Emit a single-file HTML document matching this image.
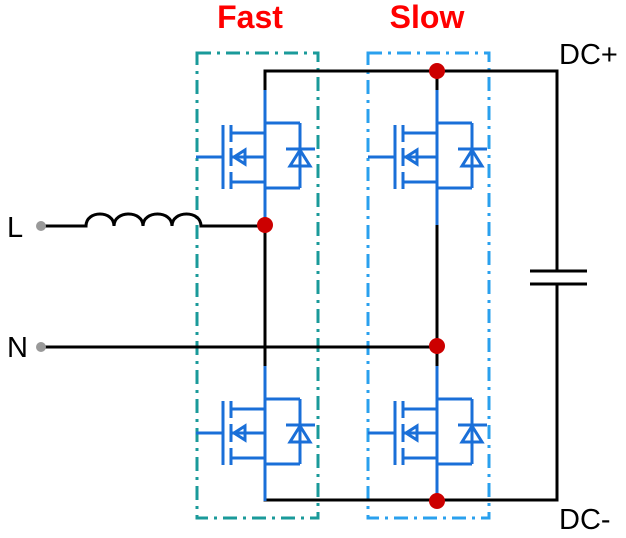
<!DOCTYPE html>
<html><head><style>html,body{margin:0;padding:0;background:#fff}svg{display:block}</style></head><body>
<svg width="626" height="538" viewBox="0 0 626 538" xmlns="http://www.w3.org/2000/svg">
<defs>
<g id="mos" fill="none" stroke="#1a6fd8" stroke-width="3">
  <line x1="0" y1="90" x2="0" y2="225"/>
  <line x1="0" y1="123" x2="35" y2="123"/>
  <line x1="35" y1="123" x2="35" y2="188"/>
  <line x1="0" y1="188" x2="35" y2="188"/>
  <line x1="-34" y1="133" x2="0" y2="133"/>
  <line x1="-34" y1="157" x2="0" y2="157"/>
  <line x1="-34" y1="182" x2="0" y2="182"/>
  <line x1="-42" y1="125" x2="-42" y2="189"/>
  <line x1="-34" y1="125" x2="-34" y2="142"/>
  <line x1="-34" y1="148" x2="-34" y2="166"/>
  <line x1="-34" y1="172" x2="-34" y2="189"/>
  <polygon points="-31,157 -20,150 -20,164"/>
  <line x1="-20" y1="150" x2="-20" y2="164"/>
  <line x1="-69" y1="157" x2="-42" y2="157"/>
  <line x1="21" y1="149" x2="50" y2="149"/>
  <polygon points="35,150 25,166 45,166"/>
</g>
</defs>
<text x="250" y="28" font-family="Liberation Sans, sans-serif" font-size="32" font-weight="bold" fill="#ff0000" text-anchor="middle">Fast</text>
<text x="427" y="28" font-family="Liberation Sans, sans-serif" font-size="32" font-weight="bold" fill="#ff0000" text-anchor="middle">Slow</text>
<rect x="197" y="53" width="121" height="465" fill="none" stroke="#1a9a9a" stroke-width="3" stroke-dasharray="14,6,3,6"/>
<rect x="368" y="53" width="121" height="465" fill="none" stroke="#2aa0ee" stroke-width="3" stroke-dasharray="14,6,3,6"/>
<g stroke="#000" stroke-width="3" fill="none">
  <polyline points="265,90 265,71 557,71 557,271"/>
  <polyline points="265,366 265,500 557,500 557,284"/>
  <line x1="530" y1="271" x2="587" y2="271"/>
  <line x1="530" y1="284" x2="587" y2="284"/>
  <line x1="265" y1="225" x2="265" y2="366"/>
  <line x1="437" y1="225" x2="437" y2="366"/>
  <line x1="437" y1="71" x2="437" y2="90"/>
  <line x1="437" y1="481" x2="437" y2="500"/>
  <line x1="265" y1="481" x2="265" y2="500"/>
  <line x1="44" y1="347" x2="437" y2="347"/>
  <path d="M44,226 H86 C86,210 114,210 114,226 C114,210 143,210 143,226 C143,210 172,210 172,226 C172,210 201,210 201,226 H265"/>
</g>
<use href="#mos" x="265" y="0"/>
<use href="#mos" x="437" y="0"/>
<use href="#mos" x="265" y="276"/>
<use href="#mos" x="437" y="276"/>
<g fill="#cc0000">
  <circle cx="265" cy="225" r="8"/>
  <circle cx="437" cy="71" r="8"/>
  <circle cx="437" cy="346" r="8"/>
  <circle cx="437" cy="501" r="8"/>
</g>
<circle cx="41" cy="226" r="5" fill="#999"/>
<circle cx="41" cy="347" r="5" fill="#999"/>
<g font-family="Liberation Sans, sans-serif" font-size="29" fill="#000">
  <text x="7" y="237">L</text>
  <text x="7" y="357">N</text>
  <text x="559" y="64">DC+</text>
  <text x="559" y="529">DC-</text>
</g>
</svg>
</body></html>
